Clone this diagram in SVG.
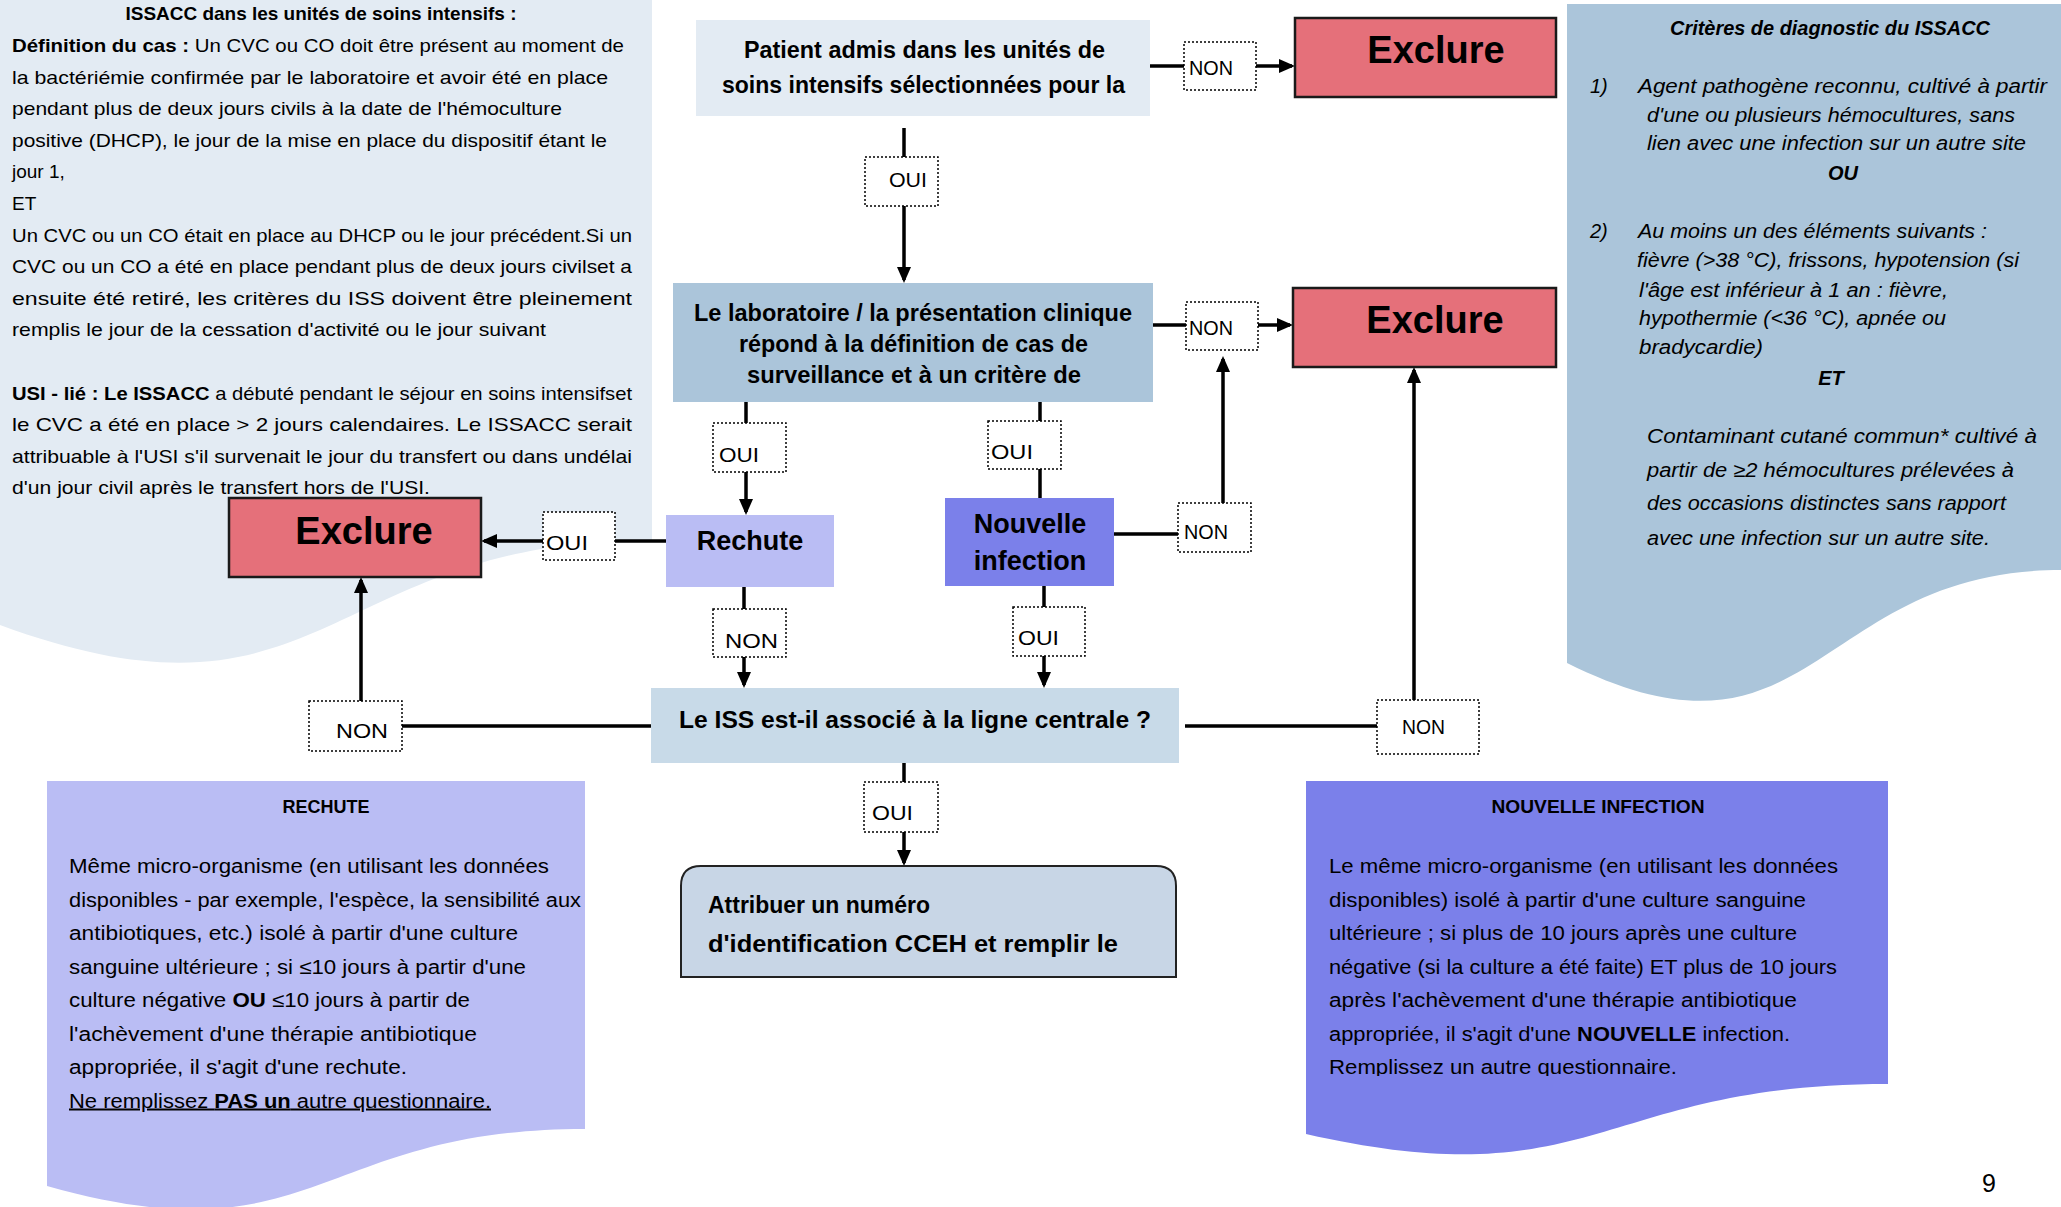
<svg xmlns="http://www.w3.org/2000/svg" width="2061" height="1207" viewBox="0 0 2061 1207">
<defs>
<style>
text{font-family:"Liberation Sans",Arial,sans-serif;fill:#000}
.b{font-weight:bold}
.body{font-size:19px}
.crit{font-size:20px;font-style:italic}
.para{font-size:20px}
.node{font-size:24px;font-weight:bold}
.excl{fill:#e5707a;stroke:#1a1a1a;stroke-width:2.5}
.exclt{font-size:38px;font-weight:bold;text-anchor:middle}
.bt{font-size:27px;font-weight:bold;text-anchor:middle}
.lbl{fill:#fff;stroke:#000;stroke-width:1.5;stroke-dasharray:2 2}
.lt{font-size:21px}
.conn{fill:none;stroke:#000;stroke-width:3.5;stroke-linejoin:miter}
</style>
<marker id="ah" markerUnits="userSpaceOnUse" markerWidth="16" markerHeight="14" refX="13" refY="7" orient="auto">
<path d="M0,0 L16,7 L0,14 Z" fill="#000"/>
</marker>
<clipPath id="clipNI"><rect x="1300" y="1040" width="600" height="36"/></clipPath>
</defs>

<g id="panel-definition">
<path d="M0,0 H652 V540 C326,540 326,745 0,625 Z" fill="#e3ebf3"/>
<text class="body b" x="321" y="20" text-anchor="middle" textLength="391" lengthAdjust="spacingAndGlyphs">ISSACC dans les unités de soins intensifs :</text>
<text class="body" x="12" y="52" textLength="612" lengthAdjust="spacingAndGlyphs"><tspan class="b">Définition du cas :</tspan> Un CVC ou CO doit être présent au moment de</text>
<text class="body" x="12" y="83.6" textLength="596" lengthAdjust="spacingAndGlyphs">la bactériémie confirmée par le laboratoire et avoir été en place</text>
<text class="body" x="12" y="115.2" textLength="550" lengthAdjust="spacingAndGlyphs">pendant plus de deux jours civils à la date de l'hémoculture</text>
<text class="body" x="12" y="146.8" textLength="595" lengthAdjust="spacingAndGlyphs">positive (DHCP), le jour de la mise en place du dispositif étant le</text>
<text class="body" x="12" y="178.4">jour 1,</text>
<text class="body" x="12" y="210">ET</text>
<text class="body" x="12" y="241.6" textLength="620" lengthAdjust="spacingAndGlyphs">Un CVC ou un CO était en place au DHCP ou le jour précédent.Si un</text>
<text class="body" x="12" y="273.2" textLength="620" lengthAdjust="spacingAndGlyphs">CVC ou un CO a été en place pendant plus de deux jours civilset a</text>
<text class="body" x="12" y="304.8" textLength="620" lengthAdjust="spacingAndGlyphs">ensuite été retiré, les critères du ISS doivent être pleinement</text>
<text class="body" x="12" y="336.4" textLength="534" lengthAdjust="spacingAndGlyphs">remplis le jour de la cessation d'activité ou le jour suivant</text>
<text class="body" x="12" y="399.6" textLength="620" lengthAdjust="spacingAndGlyphs"><tspan class="b">USI - lié : Le ISSACC</tspan> a débuté pendant le séjour en soins intensifset</text>
<text class="body" x="12" y="431.2" textLength="620" lengthAdjust="spacingAndGlyphs">le CVC a été en place &gt; 2 jours calendaires. Le ISSACC serait</text>
<text class="body" x="12" y="462.8" textLength="620" lengthAdjust="spacingAndGlyphs">attribuable à l'USI s'il survenait le jour du transfert ou dans undélai</text>
<text class="body" x="12" y="494.4" textLength="418" lengthAdjust="spacingAndGlyphs">d'un jour civil après le transfert hors de l'USI.</text>
</g>

<g id="panel-criteres">
<path d="M1567,4 H2061 V570 C1814,570 1814,786 1567,663 Z" fill="#abc5da"/>
<text class="crit b" x="1830" y="35" text-anchor="middle" textLength="320" lengthAdjust="spacingAndGlyphs">Critères de diagnostic du ISSACC</text>
<text class="crit" x="1590" y="93">1)</text>
<text class="crit" x="1638" y="93" textLength="409" lengthAdjust="spacingAndGlyphs">Agent pathogène reconnu, cultivé à partir</text>
<text class="crit" x="1647" y="122" textLength="368" lengthAdjust="spacingAndGlyphs">d'une ou plusieurs hémocultures, sans</text>
<text class="crit" x="1647" y="150" textLength="379" lengthAdjust="spacingAndGlyphs">lien avec une infection sur un autre site</text>
<text class="crit b" x="1843" y="180" text-anchor="middle">OU</text>
<text class="crit" x="1590" y="238">2)</text>
<text class="crit" x="1638" y="238" textLength="349" lengthAdjust="spacingAndGlyphs">Au moins un des éléments suivants :</text>
<text class="crit" x="1637" y="267" textLength="382" lengthAdjust="spacingAndGlyphs">fièvre (&gt;38 °C), frissons, hypotension (si</text>
<text class="crit" x="1639" y="297" textLength="309" lengthAdjust="spacingAndGlyphs">l'âge est inférieur à 1 an : fièvre,</text>
<text class="crit" x="1639" y="325" textLength="307" lengthAdjust="spacingAndGlyphs">hypothermie (&lt;36 °C), apnée ou</text>
<text class="crit" x="1639" y="354" textLength="124" lengthAdjust="spacingAndGlyphs">bradycardie)</text>
<text class="crit b" x="1831" y="385" text-anchor="middle">ET</text>
<text class="crit" x="1647" y="443" textLength="390" lengthAdjust="spacingAndGlyphs">Contaminant cutané commun* cultivé à</text>
<text class="crit" x="1647" y="477" textLength="367" lengthAdjust="spacingAndGlyphs">partir de ≥2 hémocultures prélevées à</text>
<text class="crit" x="1647" y="510" textLength="359" lengthAdjust="spacingAndGlyphs">des occasions distinctes sans rapport</text>
<text class="crit" x="1647" y="545" textLength="343" lengthAdjust="spacingAndGlyphs">avec une infection sur un autre site.</text>
</g>

<g id="panel-rechute">
<path d="M47,781 H585 V1129 C316,1129 316,1262 47,1186 Z" fill="#babdf4"/>
<text class="b" font-size="19" x="326" y="813" text-anchor="middle" textLength="87" lengthAdjust="spacingAndGlyphs">RECHUTE</text>
<text class="para" x="69" y="873" textLength="480" lengthAdjust="spacingAndGlyphs">Même micro-organisme (en utilisant les données</text>
<text class="para" x="69" y="906.5" textLength="512" lengthAdjust="spacingAndGlyphs">disponibles - par exemple, l'espèce, la sensibilité aux</text>
<text class="para" x="69" y="940" textLength="449" lengthAdjust="spacingAndGlyphs">antibiotiques, etc.) isolé à partir d'une culture</text>
<text class="para" x="69" y="973.5" textLength="457" lengthAdjust="spacingAndGlyphs">sanguine ultérieure ; si ≤10 jours à partir d'une</text>
<text class="para" x="69" y="1007" textLength="401" lengthAdjust="spacingAndGlyphs">culture négative <tspan class="b">OU</tspan> ≤10 jours à partir de</text>
<text class="para" x="69" y="1040.5" textLength="408" lengthAdjust="spacingAndGlyphs">l'achèvement d'une thérapie antibiotique</text>
<text class="para" x="69" y="1074" textLength="338" lengthAdjust="spacingAndGlyphs">appropriée, il s'agit d'une rechute.</text>
<text class="para" x="69" y="1107.5" textLength="422" lengthAdjust="spacingAndGlyphs" text-decoration="underline">Ne remplissez <tspan class="b">PAS un</tspan> autre questionnaire.</text>
</g>

<g id="panel-nouvelle">
<path d="M1306,781 H1888 V1084 C1597,1084 1597,1200 1306,1134 Z" fill="#7b80ea"/>
<text class="b" font-size="19" x="1598" y="813" text-anchor="middle" textLength="213" lengthAdjust="spacingAndGlyphs">NOUVELLE INFECTION</text>
<text class="para" x="1329" y="873" textLength="509" lengthAdjust="spacingAndGlyphs">Le même micro-organisme (en utilisant les données</text>
<text class="para" x="1329" y="906.5" textLength="477" lengthAdjust="spacingAndGlyphs">disponibles) isolé à partir d'une culture sanguine</text>
<text class="para" x="1329" y="940" textLength="468" lengthAdjust="spacingAndGlyphs">ultérieure ; si plus de 10 jours après une culture</text>
<text class="para" x="1329" y="973.5" textLength="508" lengthAdjust="spacingAndGlyphs">négative (si la culture a été faite) ET plus de 10 jours</text>
<text class="para" x="1329" y="1007" textLength="468" lengthAdjust="spacingAndGlyphs">après l'achèvement d'une thérapie antibiotique</text>
<text class="para" x="1329" y="1040.5" textLength="461" lengthAdjust="spacingAndGlyphs">appropriée, il s'agit d'une <tspan class="b">NOUVELLE</tspan> infection.</text>
<text class="para" x="1329" y="1074" textLength="348" lengthAdjust="spacingAndGlyphs" clip-path="url(#clipNI)">Remplissez un autre questionnaire.</text>
</g>

<g id="connectors">
<path class="conn" d="M1150,66 H1292" marker-end="url(#ah)"/>
<path class="conn" d="M904,128 V280" marker-end="url(#ah)"/>
<path class="conn" d="M1153,325 H1290" marker-end="url(#ah)"/>
<path class="conn" d="M746,402 V512" marker-end="url(#ah)"/>
<path class="conn" d="M1040,402 V498"/>
<path class="conn" d="M666,541 H484" marker-end="url(#ah)"/>
<path class="conn" d="M1114,534 H1223 V359" marker-end="url(#ah)"/>
<path class="conn" d="M744,587 V685" marker-end="url(#ah)"/>
<path class="conn" d="M1044,586 V685" marker-end="url(#ah)"/>
<path class="conn" d="M651,726 H361 V580" marker-end="url(#ah)"/>
<path class="conn" d="M1185,726 H1414 V370" marker-end="url(#ah)"/>
<path class="conn" d="M904,763 V863" marker-end="url(#ah)"/>
<g id="edge-labels">
<rect class="lbl" x="1184" y="42" width="72" height="48"/><text class="lt" font-size="20" x="1189" y="75" textLength="44" lengthAdjust="spacingAndGlyphs">NON</text>
<rect class="lbl" x="865" y="157" width="73" height="49"/><text class="lt" font-size="23" x="889" y="187" textLength="38" lengthAdjust="spacingAndGlyphs">OUI</text>
<rect class="lbl" x="1186" y="302" width="72" height="48"/><text class="lt" font-size="20" x="1189" y="335" textLength="44" lengthAdjust="spacingAndGlyphs">NON</text>
<rect class="lbl" x="713" y="423" width="73" height="49"/><text class="lt" font-size="23" x="719" y="462" textLength="40" lengthAdjust="spacingAndGlyphs">OUI</text>
<rect class="lbl" x="988" y="421" width="73" height="48"/><text class="lt" font-size="23" x="991" y="459" textLength="42" lengthAdjust="spacingAndGlyphs">OUI</text>
<rect class="lbl" x="1178" y="503" width="73" height="49"/><text class="lt" font-size="20" x="1184" y="539" textLength="44" lengthAdjust="spacingAndGlyphs">NON</text>
<rect class="lbl" x="543" y="512" width="72" height="48"/><text class="lt" font-size="24" x="546" y="550" textLength="42" lengthAdjust="spacingAndGlyphs">OUI</text>
<rect class="lbl" x="713" y="609" width="73" height="48"/><text class="lt" font-size="25" x="725" y="648" textLength="53" lengthAdjust="spacingAndGlyphs">NON</text>
<rect class="lbl" x="1013" y="607" width="72" height="49"/><text class="lt" font-size="23" x="1018" y="645" textLength="41" lengthAdjust="spacingAndGlyphs">OUI</text>
<rect class="lbl" x="309" y="701" width="93" height="50"/><text class="lt" font-size="24" x="336" y="738" textLength="52" lengthAdjust="spacingAndGlyphs">NON</text>
<rect class="lbl" x="1377" y="700" width="102" height="54"/><text class="lt" font-size="20" x="1402" y="734" textLength="43" lengthAdjust="spacingAndGlyphs">NON</text>
<rect class="lbl" x="864" y="782" width="74" height="50"/><text class="lt" font-size="22" x="872" y="820" textLength="41" lengthAdjust="spacingAndGlyphs">OUI</text>
</g>
</g>

<g id="node-patient">
<rect x="696" y="20" width="454" height="96" fill="#e3ebf3"/>
<text class="node" x="744" y="58" textLength="361" lengthAdjust="spacingAndGlyphs">Patient admis dans les unités de</text>
<text class="node" x="722" y="93" textLength="403" lengthAdjust="spacingAndGlyphs">soins intensifs sélectionnées pour la</text>
</g>

<g id="node-exclure-1">
<rect class="excl" x="1295" y="18" width="261" height="79"/>
<text class="exclt" x="1436" y="63">Exclure</text>
</g>

<g id="node-laboratoire">
<rect x="673" y="283" width="480" height="119" fill="#abc5da"/>
<text class="node" x="694" y="321" textLength="438" lengthAdjust="spacingAndGlyphs">Le laboratoire / la présentation clinique</text>
<text class="node" x="739" y="352" textLength="349" lengthAdjust="spacingAndGlyphs">répond à la définition de cas de</text>
<text class="node" x="747" y="383" textLength="334" lengthAdjust="spacingAndGlyphs">surveillance et à un critère de</text>
</g>

<g id="node-exclure-2">
<rect class="excl" x="1293" y="288" width="263" height="79"/>
<text class="exclt" x="1435" y="333">Exclure</text>
</g>

<g id="node-exclure-3">
<rect class="excl" x="229" y="498" width="252" height="79"/>
<text class="exclt" x="364" y="544">Exclure</text>
</g>

<g id="node-rechute">
<rect x="666" y="515" width="168" height="72" fill="#babdf4"/>
<text class="bt" x="750" y="550">Rechute</text>
</g>

<g id="node-nouvelle">
<rect x="945" y="498" width="169" height="88" fill="#7b80ea"/>
<text class="bt" x="1030" y="533">Nouvelle</text>
<text class="bt" x="1030" y="570">infection</text>
</g>

<g id="node-iss">
<rect x="651" y="688" width="528" height="75" fill="#c8dae8"/>
<text class="node" font-size="25" x="679" y="728" textLength="472" lengthAdjust="spacingAndGlyphs">Le ISS est-il associé à la ligne centrale ?</text>
</g>

<g id="node-attribuer">
<path d="M681,977 V886 Q681,866 701,866 H1156 Q1176,866 1176,886 V977 Z" fill="#c8d6e6" stroke="#222" stroke-width="2"/>
<text class="b" font-size="24" x="708" y="913" textLength="222" lengthAdjust="spacingAndGlyphs">Attribuer un numéro</text>
<text class="b" font-size="24" x="708" y="952" textLength="410" lengthAdjust="spacingAndGlyphs">d'identification CCEH et remplir le</text>
</g>

<g id="page-number">
<text font-size="25" x="1982" y="1192">9</text>
</g>
</svg>
